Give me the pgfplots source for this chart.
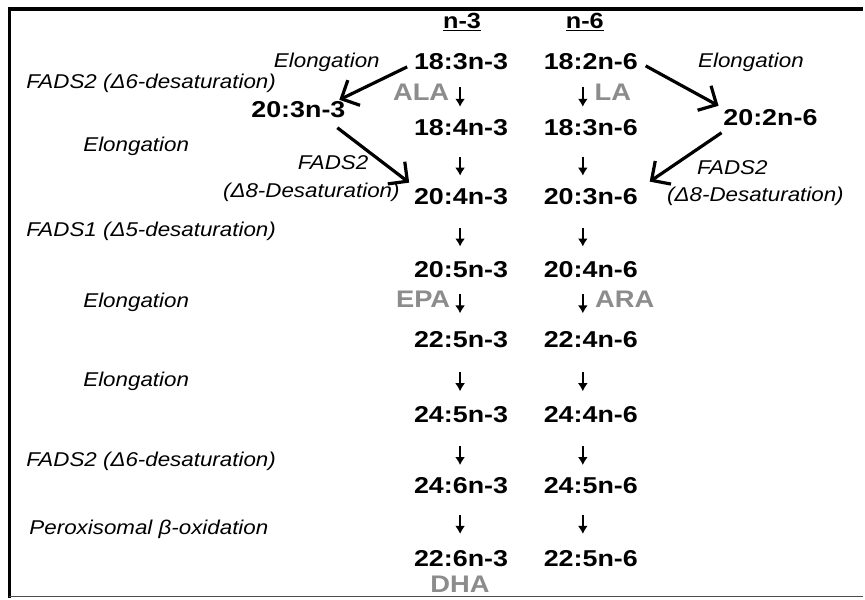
\documentclass[border=0pt]{standalone}
\usepackage{pgfplots}
\pgfplotsset{compat=1.18}
\usepackage{graphicx}
\usepackage{fontspec}
\setmainfont{Liberation Sans}
\usetikzlibrary{arrows.meta}
\definecolor{gr}{HTML}{8C8C8C}
\newcommand{\bx}[1]{\scalebox{1.12}[1]{#1}}
\newcommand{\cmp}[1]{\scalebox{1.17}[1]{\fontsize{23}{25}\selectfont\bfseries #1}}
\newcommand{\lab}[1]{\bx{\fontsize{20}{22}\selectfont\itshape #1}}
\newcommand{\gry}[1]{\scalebox{1.14}[1]{\fontsize{24}{26}\selectfont\bfseries\color{gr}#1}}
\begin{document}
\begin{tikzpicture}
\begin{axis}[
  scale only axis, width=865pt, height=599pt,
  xmin=0, xmax=865, ymin=0, ymax=599, y dir=reverse,
  axis lines=none, clip=false,
  axis background/.style={fill=white},
]
% frame
\addplot[black, line width=3.5pt] coordinates {(9.5,599) (9.5,9) (865,9)};
\addplot[black!70, line width=1.5pt] coordinates {(9,597.5) (865,597.5)};
% headers
\node at (axis cs:463,22) {\scalebox{1.15}[1]{\fontsize{22}{24}\selectfont\bfseries\underline{n-3}}};
\node at (axis cs:586,22) {\scalebox{1.15}[1]{\fontsize{22}{24}\selectfont\bfseries\underline{n-6}}};
% n-3 column
\node at (axis cs:462,62) {\cmp{18:3n-3}};
\node at (axis cs:462,128) {\cmp{18:4n-3}};
\node at (axis cs:462,197) {\cmp{20:4n-3}};
\node at (axis cs:462,270) {\cmp{20:5n-3}};
\node at (axis cs:462,340) {\cmp{22:5n-3}};
\node at (axis cs:462,415) {\cmp{24:5n-3}};
\node at (axis cs:462,487) {\cmp{24:6n-3}};
\node at (axis cs:462,560) {\cmp{22:6n-3}};
% n-6 column
\node at (axis cs:592,62) {\cmp{18:2n-6}};
\node at (axis cs:592,128) {\cmp{18:3n-6}};
\node at (axis cs:592,197) {\cmp{20:3n-6}};
\node at (axis cs:592,270) {\cmp{20:4n-6}};
\node at (axis cs:592,340) {\cmp{22:4n-6}};
\node at (axis cs:592,415) {\cmp{24:4n-6}};
\node at (axis cs:592,487) {\cmp{24:5n-6}};
\node at (axis cs:592,560) {\cmp{22:5n-6}};
% side compounds
\node at (axis cs:299,110) {\cmp{20:3n-3}};
\node at (axis cs:772,118) {\cmp{20:2n-6}};
% gray names
\node at (axis cs:422,92) {\gry{ALA}};
\node at (axis cs:614,92) {\gry{LA}};
\node at (axis cs:424,300) {\gry{EPA}};
\node at (axis cs:626,300) {\gry{ARA}};
\node at (axis cs:461,585) {\gry{DHA}};
% italic labels
\node[anchor=west] at (axis cs:271,62) {\lab{Elongation}};
\node[anchor=west] at (axis cs:23,83) {\lab{FADS2 (Δ6-desaturation)}};
\node[anchor=west] at (axis cs:80,147) {\lab{Elongation}};
\node[anchor=west] at (axis cs:295,163) {\lab{FADS2}};
\node[anchor=west] at (axis cs:220,193) {\lab{(Δ8-Desaturation)}};
\node[anchor=west] at (axis cs:23,232) {\lab{FADS1 (Δ5-desaturation)}};
\node[anchor=west] at (axis cs:80,303) {\lab{Elongation}};
\node[anchor=west] at (axis cs:80,382) {\lab{Elongation}};
\node[anchor=west] at (axis cs:23,462) {\lab{FADS2 (Δ6-desaturation)}};
\node[anchor=west] at (axis cs:26,530) {\lab{Peroxisomal \textit{β}-oxidation}};
\node[anchor=west] at (axis cs:696,62) {\lab{Elongation}};
\node[anchor=west] at (axis cs:695,168) {\lab{FADS2}};
\node[anchor=west] at (axis cs:665,197) {\lab{(Δ8-Desaturation)}};
% big arrows
\addplot[black, line width=3.2pt, -{Straight Barb[length=14pt,width=28pt,line width=3.2pt]}] coordinates {(408,67) (340,100)};
\addplot[black, line width=3.2pt, -{Straight Barb[length=14pt,width=28pt,line width=3.2pt]}] coordinates {(338,128) (410,183)};
\addplot[black, line width=3.2pt, -{Straight Barb[length=14pt,width=28pt,line width=3.2pt]}] coordinates {(647,66) (720,106)};
\addplot[black, line width=3.2pt, -{Straight Barb[length=14pt,width=28pt,line width=3.2pt]}] coordinates {(723,133) (651,182)};
% small arrows n-3
\addplot[black, line width=1.8pt, -{Latex[length=8pt,width=10pt]}] coordinates {(461,87) (461,107)};
\addplot[black, line width=1.8pt, -{Latex[length=8pt,width=10pt]}] coordinates {(461,157) (461,176)};
\addplot[black, line width=1.8pt, -{Latex[length=8pt,width=10pt]}] coordinates {(461,228) (461,247)};
\addplot[black, line width=1.8pt, -{Latex[length=8pt,width=10pt]}] coordinates {(461,295) (461,314)};
\addplot[black, line width=1.8pt, -{Latex[length=8pt,width=10pt]}] coordinates {(461,373) (461,392)};
\addplot[black, line width=1.8pt, -{Latex[length=8pt,width=10pt]}] coordinates {(461,447) (461,466)};
\addplot[black, line width=1.8pt, -{Latex[length=8pt,width=10pt]}] coordinates {(461,516) (461,535)};
% small arrows n-6
\addplot[black, line width=1.8pt, -{Latex[length=8pt,width=10pt]}] coordinates {(584,87) (584,107)};
\addplot[black, line width=1.8pt, -{Latex[length=8pt,width=10pt]}] coordinates {(584,157) (584,176)};
\addplot[black, line width=1.8pt, -{Latex[length=8pt,width=10pt]}] coordinates {(584,228) (584,247)};
\addplot[black, line width=1.8pt, -{Latex[length=8pt,width=10pt]}] coordinates {(584,295) (584,314)};
\addplot[black, line width=1.8pt, -{Latex[length=8pt,width=10pt]}] coordinates {(584,373) (584,392)};
\addplot[black, line width=1.8pt, -{Latex[length=8pt,width=10pt]}] coordinates {(584,447) (584,466)};
\addplot[black, line width=1.8pt, -{Latex[length=8pt,width=10pt]}] coordinates {(584,516) (584,535)};
\end{axis}
\end{tikzpicture}
\end{document}
